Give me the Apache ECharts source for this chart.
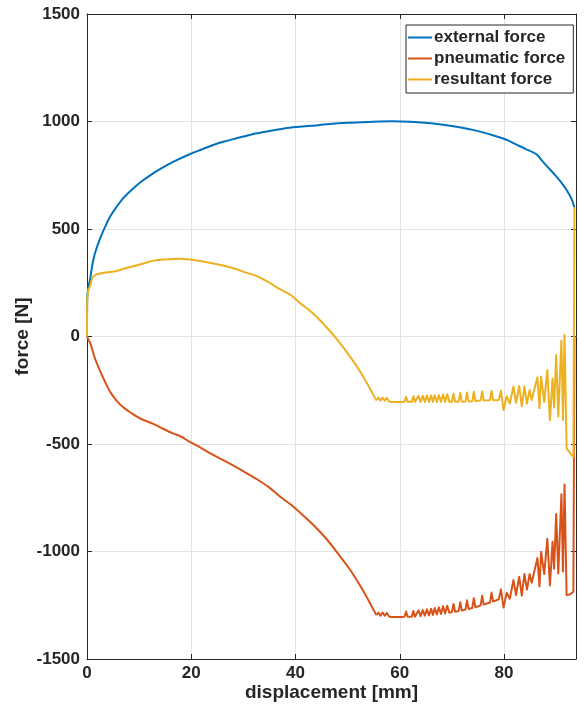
<!DOCTYPE html>
<html>
<head>
<meta charset="utf-8">
<script src="https://cdn.jsdelivr.net/npm/echarts@6/dist/echarts.min.js"></script>
<style>
  html, body { margin: 0; padding: 0; background: #fff; }
  #chart { width: 588px; height: 715px; }
</style>
</head>
<body>
<div id="chart"></div>
<script>
// External force along the stroke [mm, N]
const extX = [0, 0.05, 0.3, 0.6, 1.0, 1.5, 2.5, 3.5, 4.5, 5.7, 7, 8.9, 10.5, 12.7, 14.5, 16.6, 19.8, 22, 24.2, 26.5, 28.7, 30.5, 32.6, 35, 37, 40, 43, 46, 50, 54, 58.5, 62, 66, 70, 74, 78, 80.6, 82, 84, 86.3, 87, 88, 89, 90, 91, 92, 93, 93.5];
const extForce = [0, 180, 235, 265, 330, 385, 455, 511, 560, 604, 645, 689, 722, 759, 785, 813, 849, 870, 891, 908, 922, 933, 945, 956, 964, 974, 980, 987, 994, 998, 1001, 999, 992, 979, 961, 935, 914, 897, 874, 846, 826, 798, 772, 745, 716, 681, 637, 600];

// Compression phase (smooth part) for pneumatic and resultant force
const smoothX = [0, 0.05, 0.3, 0.6, 1.0, 1.5, 2.5, 3.5, 4.5, 5.7, 7, 8.9, 10.5, 12.7, 14.5, 16.6, 17.9, 19.8, 22, 24.2, 26.5, 28.7, 30.5, 32.6, 35, 37, 39, 41, 43, 45.7, 48, 50.5, 53, 55.5];
const pneuSmooth = [0, -3, -15, -30, -60, -100, -160, -213, -260, -299, -330, -362, -385, -406, -428, -452, -464, -491, -520, -551, -580, -609, -634, -664, -703, -744, -780, -822, -866, -935, -1005, -1086, -1184, -1296];
const resSmooth = [0, 175, 220, 235, 270, 285, 293, 298, 300, 305, 315, 327, 337, 353, 358, 361, 362, 358, 350, 340, 328, 313, 297, 281, 250, 220, 194, 153, 115, 50, -15, -95, -187, -297];

// Valve chatter phase (oscillating part)
const rippleX = [55.5, 55.9, 56.3, 56.7, 57.1, 57.5, 57.9, 58.3, 60.5, 60.9, 61.2, 61.5, 62.3, 62.6, 62.9, 63.2, 63.6, 64.0, 64.4, 64.8, 65.2, 65.6, 66.0, 66.35, 66.7, 67.1, 67.5, 67.9, 68.3, 68.7, 69.1, 69.5, 70.0, 70.3, 70.6, 71.3, 71.6, 71.9, 72.6, 72.9, 73.2, 73.9, 74.2, 74.5, 75.5, 75.8, 76.1, 77.3, 77.6, 77.9, 79.0, 79.4, 79.9, 80.5, 81.1, 81.8, 82.3, 82.9, 83.4, 83.9, 84.4, 84.9, 85.3, 86.4, 86.8, 87.1, 87.7, 88.3, 88.8, 89.3, 89.6, 90.0, 90.4, 91.0, 91.3, 91.6, 92.0, 92.6, 93.3, 93.5];
const pneuRipple = [-1296, -1284, -1299, -1284, -1299, -1285, -1301, -1305, -1305, -1303, -1279, -1303, -1303, -1277, -1303, -1302, -1274, -1301, -1272, -1299, -1269, -1297, -1266, -1295, -1263, -1293, -1260, -1291, -1255, -1288, -1252, -1285, -1282, -1244, -1280, -1277, -1236, -1275, -1270, -1227, -1267, -1263, -1217, -1259, -1251, -1206, -1247, -1237, -1191, -1233, -1222, -1176, -1261, -1192, -1220, -1133, -1203, -1117, -1205, -1105, -1177, -1105, -1145, -1030, -1163, -1001, -1105, -941, -1158, -955, -1080, -826, -1102, -734, -1093, -688, -1203, -1200, -1187, 0];
const resRipple = [-297, -284, -299, -284, -299, -285, -301, -305, -305, -304, -280, -304, -304, -278, -304, -304, -276, -304, -276, -304, -275, -304, -274, -304, -273, -304, -272, -304, -270, -304, -269, -304, -303, -266, -303, -303, -263, -303, -302, -260, -302, -301, -257, -300, -298, -255, -298, -296, -252, -296, -295, -252, -342, -278, -312, -233, -308, -230, -325, -233, -312, -249, -295, -190, -333, -186, -305, -156, -388, -197, -330, -86, -372, -19, -388, 7, -520, -540, -560, 600];

// Axis ticks
const xTicks = [0, 20, 40, 60, 80];
const yTicks = [-1500, -1000, -500, 0, 500, 1000, 1500];

const seriesNames = ['external force', 'pneumatic force', 'resultant force'];
const seriesColors = ['#0072BD', '#D95319', '#EDB120'];

const zip = (xs, ys) => xs.map((x, i) => [x, ys[i]]);

const FONT = "'Liberation Sans', Arial, Helvetica, sans-serif";
const INK = '#262626';
const GRID = '#e3e3e3';
const xMax = 93.8;

const chart = echarts.init(document.getElementById('chart'), null, { renderer: 'canvas' });

const baseAxisLine = { show: true, onZero: false, lineStyle: { color: INK, width: 1 } };
const innerTick = { show: true, inside: true, length: 5, lineStyle: { color: INK } };

// each force curve: a smoothed compression branch plus a straight-segment chatter branch
function curve(idx, data, smooth) {
  return {
    name: seriesNames[idx], type: 'line', data: data,
    showSymbol: false, symbol: 'none', smooth: smooth,
    lineStyle: { width: 2, color: seriesColors[idx], join: 'round' },
    itemStyle: { color: seriesColors[idx] },
    clip: true, z: 2 + idx
  };
}

chart.setOption({
  backgroundColor: '#ffffff',
  animation: false,
  color: seriesColors,
  grid: { left: 87, right: 12, top: 14, bottom: 56, containLabel: false },
  legend: {
    data: seriesNames,
    orient: 'vertical',
    left: 406,
    top: 25,
    icon: 'rect',
    itemWidth: 24,
    itemHeight: 2,
    itemGap: 4,
    padding: [4, 8, 5, 2],
    backgroundColor: '#ffffff',
    borderColor: INK,
    borderWidth: 1,
    textStyle: { fontFamily: FONT, fontWeight: 'bold', fontSize: 17, color: INK, padding: [0, 0, 0, -3] }
  },
  xAxis: [
    {
      type: 'value', min: 0, max: xMax, interval: 20, position: 'bottom',
      name: 'displacement [mm]', nameLocation: 'middle', nameGap: 24, nameMoveOverlap: false,
      nameTextStyle: { fontFamily: FONT, fontWeight: 'bold', fontSize: 19, color: INK },
      axisLine: baseAxisLine, axisTick: innerTick,
      axisLabel: {
        fontFamily: FONT, fontWeight: 'bold', fontSize: 17, color: INK, margin: 6,
        showMaxLabel: false,
        formatter: v => (xTicks.includes(v) ? String(v) : '')
      },
      splitLine: { show: true, lineStyle: { color: GRID, width: 1 } }
    },
    {
      type: 'value', min: 0, max: xMax, interval: 20, position: 'top',
      axisLine: baseAxisLine, axisTick: innerTick,
      axisLabel: { show: false }, splitLine: { show: false }
    }
  ],
  yAxis: [
    {
      type: 'value', min: -1500, max: 1500, interval: 500, position: 'left',
      name: 'force [N]', nameLocation: 'middle', nameGap: 55, nameRotate: 90, nameMoveOverlap: false,
      nameTextStyle: { fontFamily: FONT, fontWeight: 'bold', fontSize: 19, color: INK },
      axisLine: baseAxisLine, axisTick: innerTick,
      axisLabel: {
        fontFamily: FONT, fontWeight: 'bold', fontSize: 17, color: INK, margin: 7,
        formatter: v => (yTicks.includes(v) ? String(v) : '')
      },
      splitLine: { show: true, lineStyle: { color: GRID, width: 1 } }
    },
    {
      type: 'value', min: -1500, max: 1500, interval: 500, position: 'right',
      axisLine: baseAxisLine, axisTick: innerTick,
      axisLabel: { show: false }, splitLine: { show: false }
    }
  ],
  series: [
    curve(0, zip(extX, extForce), 0.3),
    curve(1, zip(smoothX, pneuSmooth), 0.3),
    curve(1, zip(rippleX, pneuRipple), false),
    curve(2, zip(smoothX, resSmooth), 0.3),
    curve(2, zip(rippleX, resRipple), false)
  ]
});
</script>
</body>
</html>
